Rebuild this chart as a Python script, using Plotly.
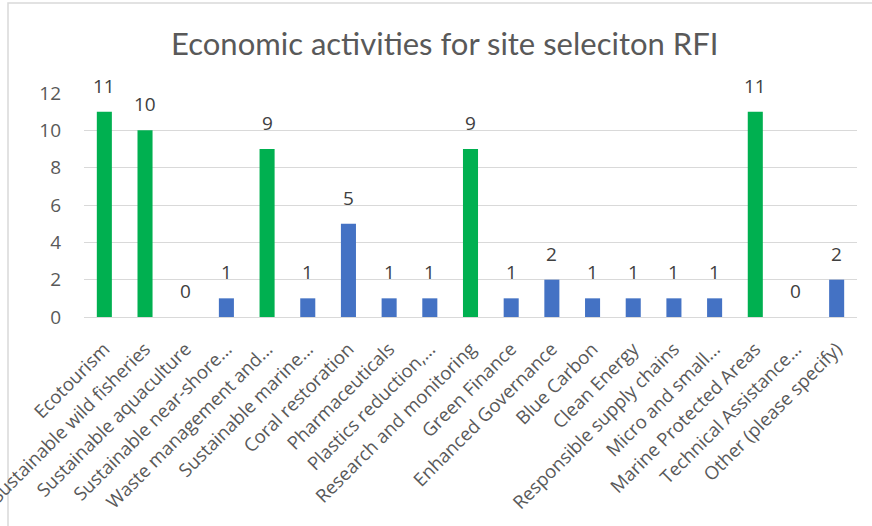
import plotly.graph_objects as go

categories = [
    "Ecotourism",
    "Sustainable wild fisheries",
    "Sustainable aquaculture",
    "Sustainable near-shore...",
    "Waste management and...",
    "Sustainable marine...",
    "Coral restoration",
    "Pharmaceuticals",
    "Plastics reduction,...",
    "Research and monitoring",
    "Green Finance",
    "Enhanced Governance",
    "Blue Carbon",
    "Clean Energy",
    "Responsible supply chains",
    "Micro and small...",
    "Marine Protected Areas",
    "Technical Assistance...",
    "Other (please specify)",
]
counts = [11, 10, 0, 1, 9, 1, 5, 1, 1, 9, 1, 2, 1, 1, 1, 1, 11, 0, 2]
highlighted = [True, True, False, False, True, False, False, False, False, True,
               False, False, False, False, False, False, True, False, False]
y_ticks = [0, 2, 4, 6, 8, 10, 12]

GREEN = "#00B050"
BLUE = "#4472C4"
colors = [GREEN if h else BLUE for h in highlighted]

W, H = 872, 526
ml, mr, mt, mb = 84, 15, 93, 209
pw, ph = W - ml - mr, H - mt - mb

fig = go.Figure(
    go.Bar(
        x=categories,
        y=counts,
        marker=dict(color=colors, line=dict(width=0)),
        width=0.37,
        cliponaxis=False,
    )
)

# value labels sitting above each bar
for cat, v in zip(categories, counts):
    fig.add_annotation(
        x=cat, y=v, text=str(v), showarrow=False,
        xanchor="center", yanchor="bottom", yshift=11,
        font=dict(family="Open Sans", size=19, color="#404040"),
    )

# outer chart frame (light grey rule along top and left)
fig.add_shape(
    type="rect", xref="paper", yref="paper",
    x0=(8 - ml) / pw, x1=(W + 10 - ml) / pw,
    y0=(H - mb - (H + 10)) / ph, y1=(H - mb - 3) / ph,
    line=dict(color="#D9D9D9", width=1.5), fillcolor="rgba(0,0,0,0)",
    layer="below",
)

fig.update_layout(
    width=W, height=H,
    margin=dict(l=ml, r=mr, t=mt, b=mb, autoexpand=False),
    paper_bgcolor="white", plot_bgcolor="white",
    showlegend=False,
    title=dict(
        text="Economic activities for site seleciton RFI",
        x=0.51, xanchor="center", y=1 - 44 / H, yanchor="middle",
        font=dict(family="Lato", size=31, color="#595959"),
    ),
)
fig.update_xaxes(
    tickangle=-45, automargin=False,
    tickfont=dict(family="Open Sans", size=18.5, color="#595959"),
    showgrid=False, showline=True, linecolor="#D9D9D9", linewidth=1,
    ticks="", ticklabelstandoff=13,
)
fig.update_yaxes(
    range=[0, 12], tickvals=y_ticks, automargin=False,
    tickfont=dict(family="Open Sans", size=19, color="#595959"),
    showgrid=True, gridcolor="#D9D9D9", gridwidth=1,
    zeroline=False, showline=False, ticks="", ticklabelstandoff=22,
)

fig.write_html("out.html")
